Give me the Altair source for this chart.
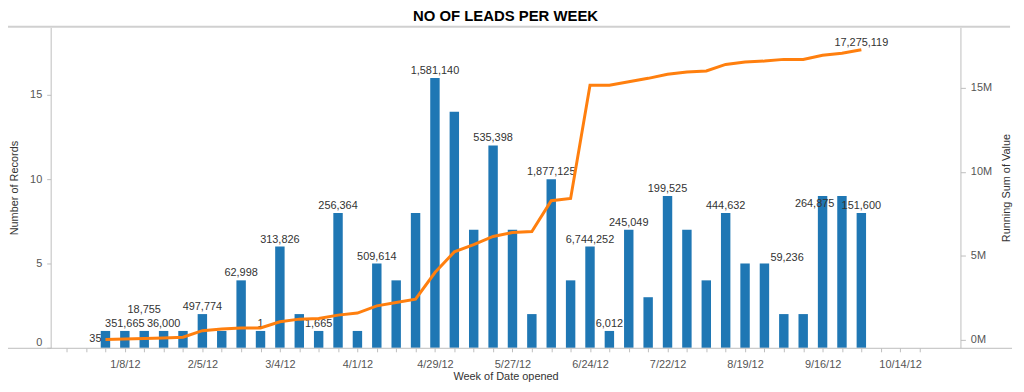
import altair as alt
import pandas as pd
from datetime import date, timedelta

# ---------------- data ----------------
weeks = [
    "2012-01-01", "2012-01-08", "2012-01-15", "2012-01-22", "2012-01-29",
    "2012-02-05", "2012-02-12", "2012-02-19", "2012-02-26", "2012-03-04",
    "2012-03-11", "2012-03-18", "2012-03-25", "2012-04-01", "2012-04-08",
    "2012-04-15", "2012-04-22", "2012-04-29", "2012-05-06", "2012-05-13",
    "2012-05-20", "2012-05-27", "2012-06-03", "2012-06-10", "2012-06-17",
    "2012-06-24", "2012-07-01", "2012-07-08", "2012-07-15", "2012-07-22",
    "2012-07-29", "2012-08-05", "2012-08-12", "2012-08-19", "2012-08-26",
    "2012-09-02", "2012-09-09", "2012-09-16", "2012-09-23", "2012-09-30",
]
record_counts = [1, 1, 1, 1, 1, 2, 1, 4, 1, 6,
                 2, 1, 8, 1, 5, 4, 8, 16, 14, 7,
                 12, 7, 2, 10, 4, 6, 1, 7, 3, 9,
                 7, 4, 8, 5, 5, 2, 2, 9, 9, 8]
running_sum_m = [0.00, 0.03, 0.05, 0.09, 0.13, 0.52, 0.62, 0.68, 0.68, 1.05,
                 1.21, 1.25, 1.45, 1.57, 2.00, 2.20, 2.40, 3.99, 5.22, 5.65,
                 6.14, 6.38, 6.44, 8.27, 8.41, 15.16, 15.16, 15.37, 15.57, 15.81,
                 15.95, 16.01, 16.40, 16.54, 16.60, 16.70, 16.70, 16.95, 17.07, 17.275119]
bar_labels = ["35", "351,665", "18,755", "36,000", "", "497,774", "", "62,998", "1", "313,826",
              "", "1,665", "256,364", "", "509,614", "", "", "1,581,140", "", "",
              "535,398", "", "", "1,877,125", "", "6,744,252", "6,012", "245,049", "", "199,525",
              "", "", "444,632", "", "59,236", "", "", "264,875", "", "151,600"]
final_label = "17,275,119"

df = pd.DataFrame({
    "week": weeks,
    "count": record_counts,
    "running": running_sum_m,
    "label": bar_labels,
    "idx": list(range(len(weeks))),
})

FONT = "Liberation Sans"
W, H = 917, 323
AXIS_GRAY = "#bdbdbd"

# weekly tick positions (axis only)
tick_dates = []
d = date(2011, 12, 18)
while d <= date(2012, 10, 21):
    tick_dates.append(alt.DateTime(year=d.year, month=d.month, date=d.day, utc=True))
    d += timedelta(days=7)

x_enc = alt.X(
    "week:T",
    scale=alt.Scale(
        type="utc",
        nice=False,
        domain=[alt.DateTime(year=2011, month=12, date=14, utc=True),
                alt.DateTime(year=2012, month=11, date=3, utc=True)],
    ),
    axis=alt.Axis(
        values=tick_dates,
        labelExpr="((datum.value - utc(2012,0,8)) / 604800000) % 4 == 0 ? utcFormat(datum.value, '%-m/%-d/%y') : ''",
        title="Week of Date opened",
        domain=False, grid=False,
        tickColor=AXIS_GRAY, tickSize=4,
        labelFont=FONT, labelFontSize=11, labelColor="#555", labelPadding=7,
        labelOverlap=False, labelFlush=False,
        titleFont=FONT, titleFontSize=11, titleFontWeight="normal", titleColor="#333",
        titleY=29, titleBaseline="middle",
    ),
)

y_left = alt.Y(
    "count:Q",
    scale=alt.Scale(domain=[0, 19], nice=False, zero=False),
    axis=alt.Axis(
        values=[0, 5, 10, 15], orient="left", title="Number of Records",
        grid=False, domainColor=AXIS_GRAY, tickColor=AXIS_GRAY, tickSize=4,
        labelPadding=5, labelFlush=True, labelFont=FONT, labelFontSize=11, labelColor="#555",
        titleFont=FONT, titleFontSize=11, titleFontWeight="normal", titleColor="#333",
        titleX=-36, titleY=H / 2, titleAngle=270, titleAlign="center", titleBaseline="middle",
    ),
)

y_right = alt.Y(
    "running:Q",
    scale=alt.Scale(domain=[-0.5, 18.61], nice=False, zero=False),
    axis=alt.Axis(
        values=[0, 5, 10, 15], orient="right", title="Running Sum of Value",
        labelExpr="datum.value + 'M'",
        grid=False, domainColor=AXIS_GRAY, tickColor=AXIS_GRAY, tickSize=5,
        labelPadding=5, labelFlush=False, labelFont=FONT, labelFontSize=11, labelColor="#555",
        titleFont=FONT, titleFontSize=11, titleFontWeight="normal", titleColor="#333",
        titleX=46, titleY=H / 2, titleAngle=270, titleAlign="center", titleBaseline="middle",
    ),
)

base = alt.Chart(df)

bars = base.mark_bar(size=9.5, color="#1F77B4").encode(x=x_enc, y=y_left)

txt_kw = dict(font=FONT, fontSize=11, color="#333")

t_norm = base.mark_text(baseline="alphabetic", dy=-4, **txt_kw).encode(
    x=x_enc, y=y_left, text="label:N"
).transform_filter("datum.label != '' && indexof([0,2,34,37], datum.idx) < 0")

t0 = base.mark_text(baseline="middle", align="right", dx=-4, dy=8, **txt_kw).encode(
    x=x_enc, y=y_left, text="label:N").transform_filter("datum.idx == 0")
t2 = base.mark_text(baseline="alphabetic", dy=-18, **txt_kw).encode(
    x=x_enc, y=y_left, text="label:N").transform_filter("datum.idx == 2")
t34 = base.mark_text(baseline="alphabetic", align="left", dx=6, dy=-3, **txt_kw).encode(
    x=x_enc, y=y_left, text="label:N").transform_filter("datum.idx == 34")
t37 = base.mark_text(baseline="alphabetic", dx=-8, dy=11, **txt_kw).encode(
    x=x_enc, y=y_left, text="label:N").transform_filter("datum.idx == 37")

deco = alt.Data(values=[{"k": 1}])
top_line = alt.Chart(deco).mark_rule(color="#d0d0d0", strokeWidth=2).encode(
    x=alt.value(-51), x2=alt.value(W + 50), y=alt.value(-0.5))
bottom_line = alt.Chart(deco).mark_rule(color=AXIS_GRAY, strokeWidth=1).encode(
    x=alt.value(-51), x2=alt.value(W + 52), y=alt.value(H + 0.5))

left_group = alt.layer(bars, t_norm, t0, t2, t34, t37, top_line, bottom_line)

line = base.mark_line(color="#FF7F0E", strokeWidth=3).encode(x=x_enc, y=y_right)
t_end = base.mark_text(baseline="alphabetic", dy=-4, **txt_kw).encode(
    x=x_enc, y=y_right, text=alt.value(final_label)
).transform_filter("datum.idx == 39")

right_group = alt.layer(line, t_end)

chart = alt.layer(left_group, right_group).resolve_scale(y="independent").properties(
    width=W, height=H,
    autosize=alt.AutoSizeParams(type="none"),
    padding={"left": 43, "top": 18, "right": 56, "bottom": 40},
    title=alt.Title("NO OF LEADS PER WEEK", font=FONT, fontSize=15, fontWeight="bold",
                    color="black", anchor="middle", offset=2),
).configure_view(stroke=None)

chart.save("out.html", embed_options={"renderer": "svg", "actions": False})
